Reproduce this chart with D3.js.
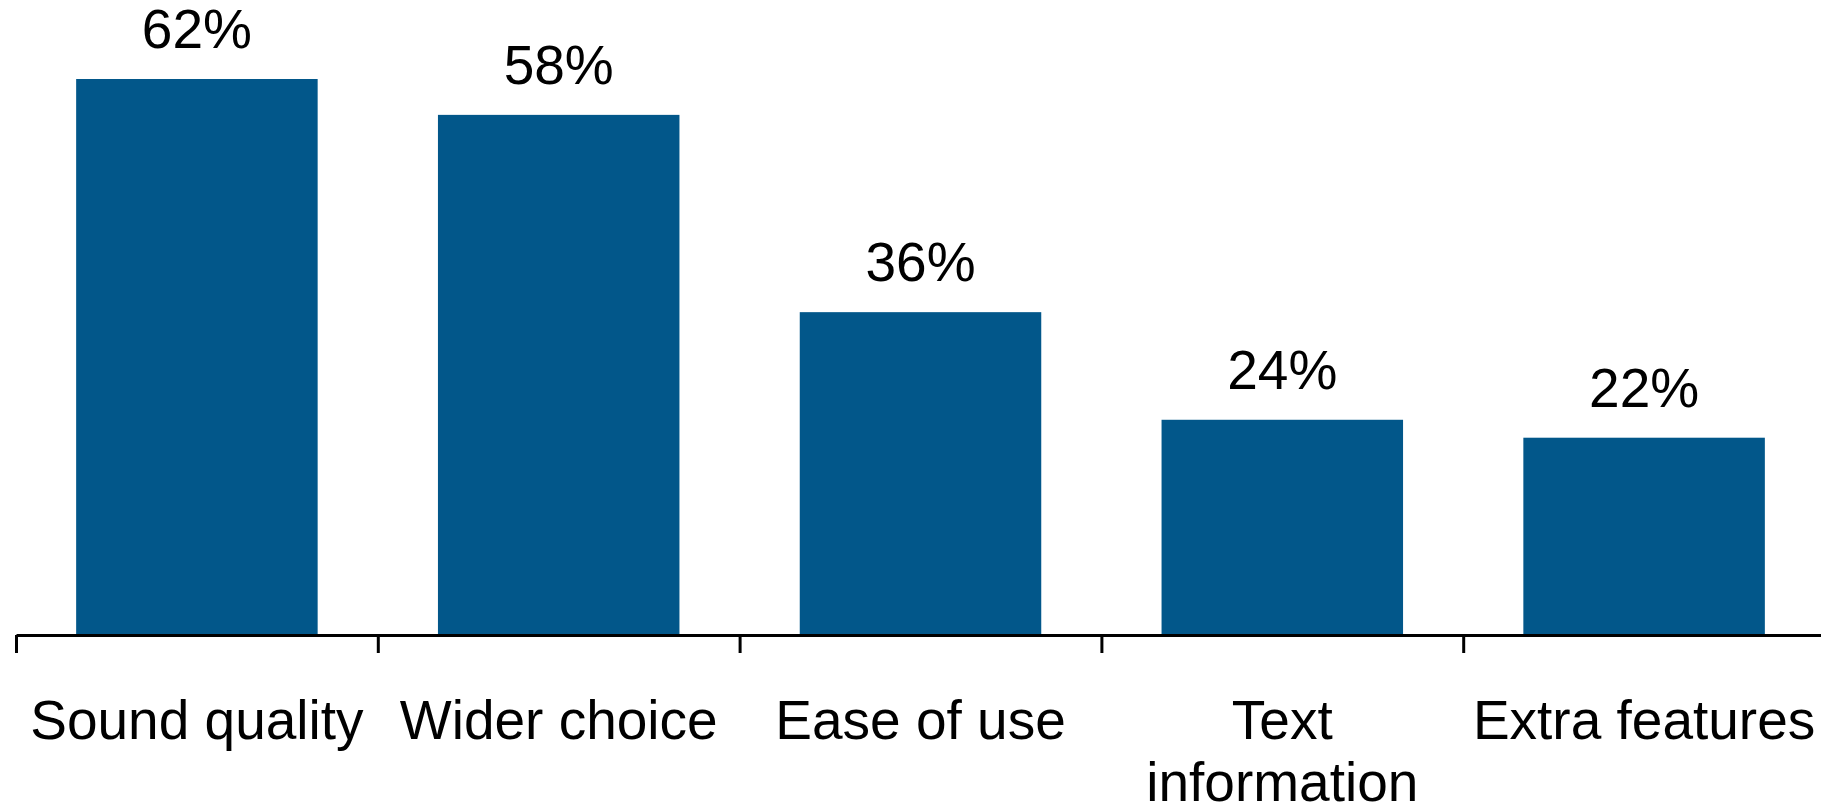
<!DOCTYPE html>
<html>
<head>
<meta charset="utf-8">
<script src="https://cdn.jsdelivr.net/npm/d3@7"></script>
<style>
  html, body { margin: 0; padding: 0; background: #fff; }
  svg { display: block; }
  text { font-family: "Liberation Sans", Arial, sans-serif; fill: #000; }
</style>
</head>
<body>
<svg id="chart" width="1821" height="811"></svg>
<script>
const categories = ["Sound quality", "Wider choice", "Ease of use", "Text information", "Extra features"];
const values = [62, 58, 36, 24, 22];
const valueLabels = ["62%", "58%", "36%", "24%", "22%"];

const W = 1821, H = 811;
const axisY = 635;
const svg = d3.select("#chart");

const x = d3.scaleBand()
  .domain(categories)
  .range([16, 1825])
  .paddingInner(0.3325)
  .paddingOuter(0.16625);

const y = d3.scaleLinear()
  .domain([0, 62])
  .range([axisY, 79]);

const barColor = "#02578A";

// bars
svg.append("g").selectAll("rect")
  .data(categories)
  .join("rect")
  .attr("x", d => x(d))
  .attr("width", x.bandwidth())
  .attr("y", (d, i) => y(values[i]))
  .attr("height", (d, i) => y(0) - y(values[i]))
  .attr("fill", barColor);

// value labels
svg.append("g").selectAll("text")
  .data(categories)
  .join("text")
  .attr("x", d => x(d) + x.bandwidth() / 2)
  .attr("y", (d, i) => y(values[i]) - 31)
  .attr("text-anchor", "middle")
  .attr("font-size", 55)
  .text((d, i) => valueLabels[i]);

// axis with ticks at band boundaries
const gap = x.step() - x.bandwidth();
const boundaries = categories.map(d => x(d) - gap / 2);
const xb = d3.scaleLinear().domain([16, W]).range([16, W]);
const axis = d3.axisBottom(xb)
  .tickValues(boundaries)
  .tickSize(18)
  .tickSizeOuter(0)
  .tickFormat("");
const gAxis = svg.append("g")
  .attr("transform", `translate(0,${axisY})`)
  .call(axis);
gAxis.select(".domain").attr("stroke", "#000").attr("stroke-width", 3);
gAxis.selectAll(".tick line").attr("stroke", "#000").attr("stroke-width", 3);

// category labels with wrapping
const maxW = x.step() - 4;
const lbl = svg.append("g").selectAll("text")
  .data(categories)
  .join("text")
  .attr("x", d => x(d) + x.bandwidth() / 2)
  .attr("y", 739)
  .attr("text-anchor", "middle")
  .attr("font-size", 55);

lbl.each(function(d) {
  const t = d3.select(this);
  const cx = +t.attr("x");
  const words = d.split(" ");
  let line = [];
  let tspan = t.append("tspan").attr("x", cx).attr("dy", 0);
  words.forEach(w => {
    line.push(w);
    tspan.text(line.join(" "));
    if (tspan.node().getComputedTextLength() > maxW && line.length > 1) {
      line.pop();
      tspan.text(line.join(" "));
      line = [w];
      tspan = t.append("tspan").attr("x", cx).attr("dy", 62).text(w);
    }
  });
});
</script>
</body>
</html>
